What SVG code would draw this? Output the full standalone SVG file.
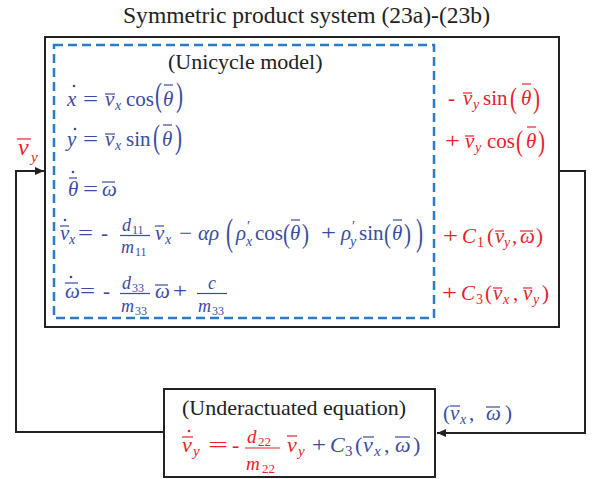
<svg xmlns="http://www.w3.org/2000/svg" width="592" height="479" viewBox="0 0 592 479">
<defs>
<style>
.ob{stroke:#3a4ba3;stroke-width:1.2;fill:none}
.or{stroke:#e8212b;stroke-width:1.2;fill:none}
.box{fill:none;stroke:#222;stroke-width:2}
.dash{fill:none;stroke:#2a7cc6;stroke-width:2.5;stroke-dasharray:9 5}
.conn{fill:none;stroke:#222;stroke-width:2}
</style>
<marker id="ah" markerUnits="userSpaceOnUse" markerWidth="10" markerHeight="10" refX="9" refY="5" orient="auto"><path d="M0,1 L9,5 L0,9 z" fill="#222"/></marker>
</defs>
<rect width="592" height="479" fill="#fff"/>

<g id="connectors">
<path class="conn" d="M164,432 H16 V171 H44" marker-end="url(#ah)"/>
<path class="conn" d="M559,171 H585 V433 H437" marker-end="url(#ah)"/>
<g fill="#e8212b" font-family="Liberation Serif" font-style="italic">
<text font-size="24" x="18" y="155">v</text>
<text font-size="15" x="31" y="162">y</text>
</g>
<line class="or" x1="17" y1="139" x2="31" y2="139"/>
<g fill="#3a4ba3" font-family="Liberation Serif" font-size="21">
<text x="443" y="420">(</text>
<text font-style="italic" x="450" y="420">v</text>
<text font-style="italic" font-size="14" x="460" y="424">x</text>
<text x="469" y="420">,</text>
<text font-style="italic" x="486" y="420">ω</text>
<text x="505" y="420">)</text>
</g>
<line class="ob" x1="450" y1="406" x2="460" y2="406"/>
<line class="ob" x1="486" y1="407" x2="500" y2="407"/>
</g>

<g id="system">
<text font-family="Liberation Serif" fill="#222" font-size="23" x="123" y="23" textLength="367" lengthAdjust="spacingAndGlyphs">Symmetric product system (23a)-(23b)</text>
<rect class="box" x="45" y="37" width="514" height="290"/>
<g fill="#e8212b" font-family="Liberation Serif" font-size="21">
<text x="448" y="105">-</text>
<text font-style="italic" x="463" y="105">v</text>
<text font-style="italic" font-size="14" x="473" y="109">y</text>
<text x="483" y="105">sin</text>
<text transform="translate(510,108) scale(1,1.4)">(</text>
<text font-style="italic" x="521" y="105">θ</text>
<text transform="translate(533,108) scale(1,1.4)">)</text>
<text x="445" y="148" textLength="15" lengthAdjust="spacingAndGlyphs">+</text>
<text font-style="italic" x="465" y="148">v</text>
<text font-style="italic" font-size="14" x="475" y="152">y</text>
<text x="487" y="148">cos</text>
<text transform="translate(516,151) scale(1,1.45)">(</text>
<text font-style="italic" x="526" y="148">θ</text>
<text transform="translate(538,151) scale(1,1.45)">)</text>
<text x="443" y="243" textLength="15" lengthAdjust="spacingAndGlyphs">+</text>
<text font-style="italic" x="462" y="243">C</text>
<text font-size="14" x="477" y="247">1</text>
<text x="487" y="243">(</text>
<text font-style="italic" x="495" y="243">v</text>
<text font-style="italic" font-size="14" x="504" y="247">y</text>
<text x="512" y="243">,</text>
<text font-style="italic" x="520" y="243">ω</text>
<text x="536" y="243">)</text>
<text x="442" y="300" textLength="15" lengthAdjust="spacingAndGlyphs">+</text>
<text font-style="italic" x="461" y="300">C</text>
<text font-size="14" x="476" y="304">3</text>
<text x="485" y="300">(</text>
<text font-style="italic" x="493" y="300">v</text>
<text font-style="italic" font-size="14" x="503" y="304">x</text>
<text x="513" y="300">,</text>
<text font-style="italic" x="523" y="300">v</text>
<text font-style="italic" font-size="14" x="533" y="304">y</text>
<text x="542" y="300">)</text>
</g>
<line class="or" x1="463" y1="93" x2="472" y2="93"/>
<line class="or" x1="522" y1="84" x2="531" y2="84"/>
<line class="or" x1="465" y1="136" x2="474" y2="136"/>
<line class="or" x1="527" y1="127" x2="536" y2="127"/>
<line class="or" x1="495" y1="231" x2="504" y2="231"/>
<line class="or" x1="520" y1="231" x2="533" y2="231"/>
<line class="or" x1="493" y1="288" x2="502" y2="288"/>
<line class="or" x1="523" y1="288" x2="532" y2="288"/>
</g>

<g id="unicycle">
<rect class="dash" x="54" y="45" width="380" height="273"/>
<text font-family="Liberation Serif" fill="#222" font-size="22" x="168" y="69">(Unicycle model)</text>
<g fill="#3a4ba3" font-family="Liberation Serif" font-size="21">
<text font-style="italic" x="67" y="106">x</text>
<text x="83" y="106" textLength="15" lengthAdjust="spacingAndGlyphs">=</text>
<text font-style="italic" x="105" y="106">v</text>
<text font-style="italic" font-size="14" x="115" y="110">x</text>
<text x="126" y="106">cos</text>
<text transform="translate(155,106) scale(1,1.62)">(</text>
<text font-style="italic" x="163" y="106">θ</text>
<text transform="translate(176,106) scale(1,1.62)">)</text>

<text font-style="italic" x="67" y="146">y</text>
<text x="83" y="146" textLength="15" lengthAdjust="spacingAndGlyphs">=</text>
<text font-style="italic" x="105" y="146">v</text>
<text font-style="italic" font-size="14" x="115" y="150">x</text>
<text x="126" y="146">sin</text>
<text transform="translate(153,148) scale(1,1.62)">(</text>
<text font-style="italic" x="162" y="146">θ</text>
<text transform="translate(175,148) scale(1,1.62)">)</text>

<text font-style="italic" x="68" y="196">θ</text>
<text x="83" y="196" textLength="15" lengthAdjust="spacingAndGlyphs">=</text>
<text font-style="italic" x="102" y="196">ω</text>

<text font-style="italic" x="60" y="240">v</text>
<text font-style="italic" font-size="14" x="69" y="244">x</text>
<text x="78" y="240" textLength="15" lengthAdjust="spacingAndGlyphs">=</text>
<text x="101" y="240">-</text>
<text font-style="italic" font-size="18" x="122" y="231">d</text>
<text font-size="12" x="132" y="234">11</text>
<text font-style="italic" font-size="18" x="121" y="253">m</text>
<text font-size="12" x="135" y="256">11</text>
<text font-style="italic" x="155" y="240">v</text>
<text font-style="italic" font-size="14" x="165" y="244">x</text>
<text x="179" y="240" textLength="13" lengthAdjust="spacingAndGlyphs">−</text>
<text font-style="italic" x="198" y="240">αρ</text>
<text transform="translate(226,245) scale(1,1.8)">(</text>
<text font-style="italic" x="236" y="240">ρ</text>
<text font-size="14" x="247" y="231">′</text>
<text font-style="italic" font-size="14" x="246" y="246">x</text>
<text x="255" y="240">cos</text>
<text transform="translate(283,243) scale(1,1.3)">(</text>
<text font-style="italic" x="290" y="240">θ</text>
<text transform="translate(302,243) scale(1,1.3)">)</text>
<text x="321" y="240" textLength="15" lengthAdjust="spacingAndGlyphs">+</text>
<text font-style="italic" x="341" y="240">ρ</text>
<text font-size="14" x="352" y="231">′</text>
<text font-style="italic" font-size="14" x="350" y="246">y</text>
<text x="359" y="240">sin</text>
<text transform="translate(384,243) scale(1,1.3)">(</text>
<text font-style="italic" x="392" y="240">θ</text>
<text transform="translate(404,243) scale(1,1.3)">)</text>
<text transform="translate(416,245) scale(1,1.8)">)</text>

<text font-style="italic" x="65" y="298">ω</text>
<text x="80" y="298" textLength="15" lengthAdjust="spacingAndGlyphs">=</text>
<text x="103" y="298">-</text>
<text font-style="italic" font-size="18" x="122" y="289">d</text>
<text font-size="12" x="132" y="292">33</text>
<text font-style="italic" font-size="18" x="121" y="312">m</text>
<text font-size="12" x="135" y="315">33</text>
<text font-style="italic" x="155" y="298">ω</text>
<text x="173" y="298" textLength="14" lengthAdjust="spacingAndGlyphs">+</text>
<text font-style="italic" font-size="18" x="208" y="289">c</text>
<text font-style="italic" font-size="18" x="198" y="312">m</text>
<text font-size="12" x="212" y="315">33</text>
</g>
<g fill="#3a4ba3">
<circle cx="74" cy="86" r="1.3"/>
<circle cx="75" cy="129" r="1.3"/>
<circle cx="73" cy="172" r="1.3"/>
<circle cx="65" cy="220" r="1.3"/>
<circle cx="71" cy="277" r="1.3"/>
</g>
<line class="ob" x1="105" y1="94" x2="115" y2="94"/>
<line class="ob" x1="164" y1="85" x2="173" y2="85"/>
<line class="ob" x1="105" y1="134" x2="115" y2="134"/>
<line class="ob" x1="163" y1="125" x2="172" y2="125"/>
<line class="ob" x1="69" y1="178" x2="77" y2="178"/>
<line class="ob" x1="102" y1="182" x2="115" y2="182"/>
<line class="ob" x1="60" y1="226" x2="69" y2="226"/>
<line class="ob" x1="120" y1="235.5" x2="150" y2="235.5"/>
<line class="ob" x1="155" y1="226" x2="164" y2="226"/>
<line class="ob" x1="291" y1="220" x2="300" y2="220"/>
<line class="ob" x1="393" y1="220" x2="402" y2="220"/>
<line class="ob" x1="65" y1="283" x2="78" y2="283"/>
<line class="ob" x1="120" y1="293.5" x2="150" y2="293.5"/>
<line class="ob" x1="155" y1="285" x2="168" y2="285"/>
<line class="ob" x1="197" y1="293.5" x2="227" y2="293.5"/>
</g>

<g id="underactuated">
<rect class="box" x="164" y="389" width="271" height="88"/>
<text font-family="Liberation Serif" fill="#222" font-size="22" x="182" y="415">(Underactuated equation)</text>
<g fill="#e8212b" font-family="Liberation Serif" font-size="22">
<text font-style="italic" x="182" y="452">v</text>
<text font-style="italic" font-size="15" x="193" y="456">y</text>
<text x="208" y="452" textLength="20" lengthAdjust="spacingAndGlyphs">=</text>
<text x="232" y="452">-</text>
<text font-style="italic" font-size="19" x="247" y="443">d</text>
<text font-size="13" x="258" y="446">22</text>
<text font-style="italic" font-size="19" x="246" y="470">m</text>
<text font-size="13" x="262" y="473">22</text>
<text font-style="italic" x="287" y="452">v</text>
<text font-style="italic" font-size="15" x="298" y="456">y</text>
</g>
<g fill="#3a4ba3" font-family="Liberation Serif" font-size="22">
<text x="312" y="452" textLength="14" lengthAdjust="spacingAndGlyphs">+</text>
<text font-style="italic" x="330" y="452">C</text>
<text font-size="15" x="345" y="456">3</text>
<text x="355" y="452">(</text>
<text font-style="italic" x="363" y="452">v</text>
<text font-style="italic" font-size="15" x="374" y="456">x</text>
<text x="384" y="452">,</text>
<text font-style="italic" x="395" y="452">ω</text>
<text x="413" y="452">)</text>
</g>
<circle cx="189" cy="431" r="1.3" fill="#e8212b"/>
<line class="or" x1="182" y1="437" x2="193" y2="437"/>
<line class="or" x1="245" y1="448" x2="280" y2="448"/>
<line class="or" x1="287" y1="436" x2="297" y2="436"/>
<line class="ob" x1="363" y1="437" x2="374" y2="437"/>
<line class="ob" x1="395" y1="437" x2="410" y2="437"/>
</g>
</svg>
